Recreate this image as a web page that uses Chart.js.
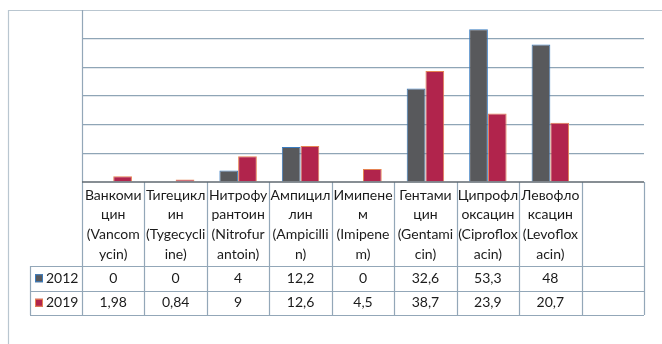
<!DOCTYPE html>
<html>
<head>
<meta charset="utf-8">
<script src="https://cdn.jsdelivr.net/npm/chart.js@4"></script>
<style>
  html, body { margin: 0; padding: 0; background: #fff; }
  canvas { display: block; }
</style>
</head>
<body>
<canvas id="resistance" width="662" height="344"></canvas>
<script>
// Antibiotic names, split across lines the way the table header wraps them
const categories = [
    ['Ванкоми', 'цин', '(Vancom', 'ycin)'],
    ['Тигецикл', 'ин', '(Tygecycli', 'ine)'],
    ['Нитрофу', 'рантоин', '(Nitrofur', 'antoin)'],
    ['Ампицил', 'лин', '(Ampicilli', 'n)'],
    ['Имипене', 'м', '(Imipene', 'm)'],
    ['Гентами', 'цин', '(Gentami', 'cin)'],
    ['Ципрофл', 'оксацин', '(Ciproflox', 'acin)'],
    ['Левофло', 'ксацин', '(Levoflox', 'acin)'],
    ['']
];
const values2012 = [0, 0, 4, 12.2, 0, 32.6, 53.3, 48, null];
const values2019 = [1.98, 0.84, 9, 12.6, 4.5, 38.7, 23.9, 20.7, null];
const seriesNames = ['2012', '2019'];
const yTicks = [0, 10, 20, 30, 40, 50, 60];

const FONT = '14px Lato';
const TEXT = '#1b1b1b';
const LINE = '#93a7b8';

const fmt = v => (v === null ? '' : String(v).replace('.', ','));

// Outer frame + data table under the plot, columns follow the x scale
const dataTable = {
    id: 'dataTable',
    beforeDraw(chart) {
        const { ctx, width, height, chartArea: a } = chart;
        ctx.save();
        ctx.fillStyle = '#fff';
        ctx.fillRect(0, 0, width, height);
        ctx.strokeStyle = '#b9c6d0';
        ctx.lineWidth = 1.2;
        ctx.beginPath();
        ctx.moveTo(8.5, height);
        ctx.lineTo(8.5, a.top + 0.5);
        ctx.lineTo(width, a.top + 0.5);
        ctx.stroke();
        ctx.restore();
    },
    afterDraw(chart) {
        const { ctx, chartArea: a, scales: { x } } = chart;
        const step = x.getPixelForValue(1) - x.getPixelForValue(0);
        const n = categories.length;
        const headTop = a.bottom;
        const headBottom = headTop + 84;
        const rowH = 24.5;
        const tableBottom = headBottom + rowH * 2;
        const keyLeft = 30;
        const colors = chart.data.datasets.map(d => d.backgroundColor);
        const borders = chart.data.datasets.map(d => d.borderColor);

        ctx.save();
        ctx.strokeStyle = LINE;
        ctx.lineWidth = 1.2;
        ctx.beginPath();
        // vertical column dividers
        for (let i = 0; i <= n; i++) {
            const px = Math.round(x.getPixelForValue(i) - step / 2) + 0.5;
            ctx.moveTo(px, i === 0 ? a.top : headTop);
            ctx.lineTo(px, tableBottom);
        }
        // row lines
        [headBottom, headBottom + rowH, tableBottom].forEach(y => {
            ctx.moveTo(keyLeft, Math.round(y) + 0.5);
            ctx.lineTo(a.right, Math.round(y) + 0.5);
        });
        ctx.moveTo(keyLeft + 0.5, headBottom);
        ctx.lineTo(keyLeft + 0.5, tableBottom);
        ctx.stroke();

        // category axis line
        ctx.strokeStyle = '#5f6870';
        ctx.lineWidth = 1.5;
        ctx.beginPath();
        ctx.moveTo(a.left, a.bottom);
        ctx.lineTo(a.right, a.bottom);
        ctx.stroke();

        ctx.font = FONT;
        ctx.fillStyle = TEXT;
        ctx.textAlign = 'center';
        ctx.textBaseline = 'middle';
        categories.forEach((lines, i) => {
            const cx = x.getPixelForValue(i);
            lines.forEach((t, k) => ctx.fillText(t, cx, headTop + 13 + k * 19.8));
            ctx.fillText(fmt(values2012[i]), cx, headBottom + rowH / 2);
            ctx.fillText(fmt(values2019[i]), cx, headBottom + rowH * 1.5);
        });

        // series keys
        seriesNames.forEach((name, s) => {
            const cy = headBottom + rowH * (s + 0.5);
            ctx.fillStyle = colors[s];
            ctx.fillRect(35, cy - 4, 8, 8);
            ctx.strokeStyle = borders[s];
            ctx.lineWidth = 1;
            ctx.strokeRect(35.5, cy - 3.5, 7, 7);
            ctx.fillStyle = TEXT;
            ctx.textAlign = 'left';
            ctx.fillText(name, 46, cy);
        });
        ctx.restore();
    }
};

new Chart(document.getElementById('resistance'), {
    type: 'bar',
    data: {
        labels: categories,
        datasets: [
            { label: seriesNames[0], data: values2012, backgroundColor: '#58595c', borderColor: '#3a7cc0', borderWidth: 1 },
            { label: seriesNames[1], data: values2019, backgroundColor: '#b1244c', borderColor: '#e58352', borderWidth: 1 }
        ]
    },
    options: {
        responsive: false,
        animation: false,
        devicePixelRatio: 1,
        layout: { padding: { left: 82, right: 18, top: 10, bottom: 162 } },
        categoryPercentage: 0.6,
        barPercentage: 1,
        plugins: { legend: { display: false }, tooltip: { enabled: false } },
        scales: {
            x: {
                ticks: { display: false },
                grid: { display: false, drawTicks: false },
                border: { display: false },
                afterFit: s => { s.height = 0; }
            },
            y: {
                min: yTicks[0],
                max: yTicks[yTicks.length - 1],
                afterBuildTicks: s => { s.ticks = yTicks.map(v => ({ value: v })); },
                ticks: { display: false },
                grid: {
                    drawTicks: false,
                    lineWidth: 1.2,
                    color: c => (c.tick.value === 0 || c.tick.value === 60 ? 'rgba(0,0,0,0)' : '#8fa5b6')
                },
                border: { display: false },
                afterFit: s => { s.width = 0; }
            }
        }
    },
    plugins: [dataTable]
});
</script>
</body>
</html>
